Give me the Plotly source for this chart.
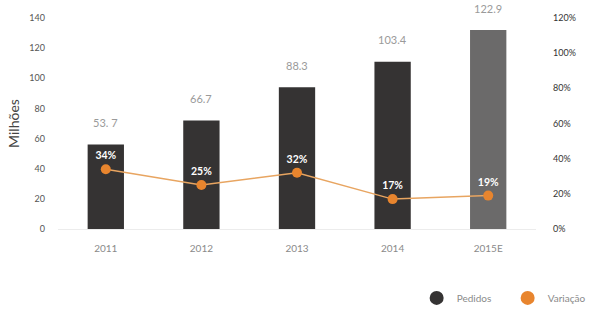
import plotly.graph_objects as go

years = ["2011", "2012", "2013", "2014", "2015E"]
pedidos_bar = [56, 72, 94, 111, 132]          # bar heights as drawn
pedidos_labels = ["53. 7", "66.7", "88.3", "103.4", "122.9"]
variacao = [34, 25, 32, 17, 19]
variacao_labels = ["34%", "25%", "32%", "17%", "19%"]
bar_colors = ["#353333", "#353333", "#353333", "#353333", "#6b6a6a"]
orange = "#E8852E"
font_family = "Lato, 'Open Sans', sans-serif"

xpos = list(range(len(years)))

fig = go.Figure()
fig.add_trace(go.Bar(
    x=xpos, y=pedidos_bar, marker=dict(color=bar_colors, line=dict(width=0)),
    width=0.38, showlegend=False, hoverinfo="skip"))
fig.add_trace(go.Scatter(
    x=xpos, y=variacao, yaxis="y2", mode="lines+markers+text",
    line=dict(color="#E8A561", width=1.5),
    marker=dict(color=orange, size=10),
    text=variacao_labels, textposition="top center",
    textfont=dict(color="white", size=10.5, family=font_family, weight="bold"),
    showlegend=False))
# legend entries
fig.add_trace(go.Scatter(x=[None], y=[None], mode="markers", name="Pedidos",
                         marker=dict(color="#353333", size=14, symbol="circle")))
fig.add_trace(go.Scatter(x=[None], y=[None], mode="markers", name="Variação",
                         marker=dict(color=orange, size=14, symbol="circle")))

for xi, v, t in zip(xpos, pedidos_bar, pedidos_labels):
    fig.add_annotation(x=xi, y=v, text=t, showarrow=False, yshift=22,
                       font=dict(color="#9a9a9a", size=11, family=font_family))

fig.update_layout(
    width=591, height=321,
    margin=dict(l=58, r=55, t=18, b=92),
    plot_bgcolor="white", paper_bgcolor="white",
    font=dict(family=font_family, color="#555555"),
    xaxis=dict(range=[-0.5, len(years) - 0.5], tickvals=xpos, ticktext=years,
               showgrid=False, showline=True, linecolor="#ececec", linewidth=1,
               ticks="", tickfont=dict(size=10, color="#8a8a8a"), zeroline=False,
               ticklabelstandoff=10),
    yaxis=dict(range=[0, 140], dtick=20, showgrid=False, zeroline=False,
               tickfont=dict(size=9, color="#555555"), ticklabelstandoff=12,
               title=dict(text="Milhões", font=dict(size=14, color="#444444"), standoff=6)),
    yaxis2=dict(range=[0, 120], dtick=20, overlaying="y", side="right",
                showgrid=False, zeroline=False, ticksuffix="%",
                tickfont=dict(size=9, color="#333333"), ticklabelstandoff=16),
    legend=dict(orientation="h", xref="container", yref="container",
                x=0.705, xanchor="left", y=0.072, yanchor="middle",
                font=dict(size=10, color="#8a8a8a"), itemwidth=30, entrywidth=46),
)

fig.write_html("out.html")
